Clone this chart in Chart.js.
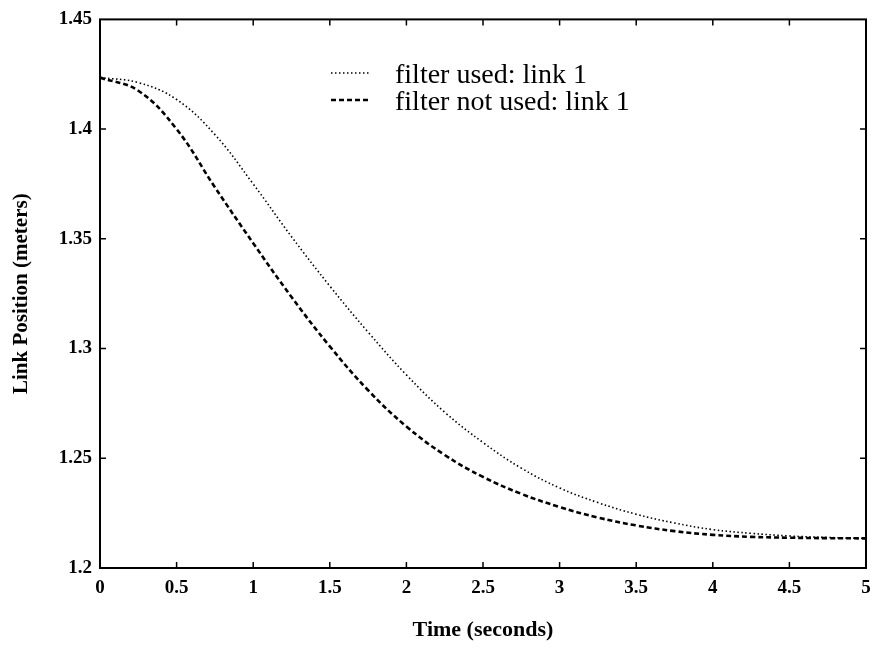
<!DOCTYPE html>
<html>
<head>
<meta charset="utf-8">
<script src="https://cdn.jsdelivr.net/npm/chart.js@4"></script>
<style>
  body { margin: 0; background: #fff; }
  #chart { display: block; }
</style>
</head>
<body>
<canvas id="chart" width="872" height="652"></canvas>
<script>
// time axis (seconds)
const time = [0, 0.25, 0.5, 0.75, 1, 1.25, 1.5, 1.75, 2, 2.25, 2.5, 2.75, 3,
              3.25, 3.5, 3.75, 4, 4.25, 4.5, 4.75, 5];
// link position (meters)
const filterUsed = [1.4235, 1.4212, 1.4135, 1.3975, 1.375, 1.351, 1.3285, 1.3075, 1.288,
                    1.271, 1.2572, 1.2455, 1.2365, 1.2298, 1.2245, 1.2205, 1.2175, 1.2158,
                    1.2146, 1.2139, 1.2135];
const filterNotUsed = [1.4235, 1.4175, 1.400, 1.3735, 1.348, 1.3235, 1.301, 1.281, 1.2645,
                       1.2515, 1.2415, 1.2338, 1.2278, 1.223, 1.2194, 1.2168, 1.2151, 1.2142,
                       1.2138, 1.2136, 1.2135];
const seriesLabels = ['filter used: link 1', 'filter not used: link 1'];

const serif = '"Liberation Serif", "DejaVu Serif", serif';

function fmt(v) {
    return String(Number(v.toFixed(2)));
}

// box + inward ticks on all four sides, like the original plot
const frameTicks = {
    id: 'frameTicks',
    afterDatasetsDraw(chart) {
        const { ctx, chartArea: a, scales } = chart;
        ctx.save();
        ctx.strokeStyle = '#000';
        ctx.lineWidth = 1.5;
        const len = 6;
        scales.x.ticks.forEach(t => {
            const px = scales.x.getPixelForValue(t.value);
            if (px <= a.left + 1 || px >= a.right - 1) return;
            ctx.beginPath();
            ctx.moveTo(px, a.bottom); ctx.lineTo(px, a.bottom - len);
            ctx.moveTo(px, a.top); ctx.lineTo(px, a.top + len);
            ctx.stroke();
        });
        scales.y.ticks.forEach(t => {
            const py = scales.y.getPixelForValue(t.value);
            if (py <= a.top + 1 || py >= a.bottom - 1) return;
            ctx.beginPath();
            ctx.moveTo(a.left, py); ctx.lineTo(a.left + len, py);
            ctx.moveTo(a.right, py); ctx.lineTo(a.right - len, py);
            ctx.stroke();
        });
        ctx.lineWidth = 2;
        ctx.strokeRect(a.left, a.top, a.right - a.left, a.bottom - a.top);
        ctx.restore();
    }
};

// legend drawn inside the plot, upper middle
const innerLegend = {
    id: 'innerLegend',
    afterDraw(chart) {
        const { ctx } = chart;
        ctx.save();
        ctx.font = '28px ' + serif;
        ctx.fillStyle = '#000';
        ctx.textBaseline = 'alphabetic';
        chart.data.datasets.forEach((ds, i) => {
            const y = 83 + i * 27;
            ctx.strokeStyle = '#000';
            ctx.lineWidth = ds.borderWidth;
            ctx.setLineDash(ds.borderDash);
            ctx.beginPath();
            ctx.moveTo(331, y - 10); ctx.lineTo(370, y - 10);
            ctx.stroke();
            ctx.setLineDash([]);
            ctx.fillText(ds.label, 395, y);
        });
        ctx.restore();
    }
};

new Chart(document.getElementById('chart'), {
    type: 'line',
    data: {
        datasets: [{
            label: seriesLabels[0],
            data: time.map((t, i) => ({ x: t, y: filterUsed[i] })),
            borderColor: '#000',
            borderWidth: 1.6,
            borderDash: [1.5, 2.5],
            pointRadius: 0,
            tension: 0.4
        }, {
            label: seriesLabels[1],
            data: time.map((t, i) => ({ x: t, y: filterNotUsed[i] })),
            borderColor: '#000',
            borderWidth: 2.6,
            borderDash: [5, 3],
            pointRadius: 0,
            tension: 0.4
        }]
    },
    options: {
        responsive: false,
        animation: false,
        layout: { padding: { left: 0, right: 6, top: 17, bottom: 0 } },
        plugins: { legend: { display: false }, tooltip: { enabled: false } },
        scales: {
            x: {
                type: 'linear',
                min: 0, max: 5,
                grid: { display: false, drawTicks: false },
                border: { display: false },
                ticks: {
                    stepSize: 0.5,
                    padding: 9,
                    color: '#000',
                    maxRotation: 0,
                    font: { family: serif, size: 19, weight: 'bold' },
                    callback: v => fmt(v)
                },
                title: {
                    display: true,
                    text: 'Time (seconds)',
                    color: '#000',
                    font: { family: serif, size: 22, weight: 'bold' },
                    padding: { top: 0, bottom: 8 }
                },
                afterFit: s => { s.height = 84; s.paddingRight = 0; }
            },
            y: {
                min: 1.2, max: 1.45,
                grid: { display: false, drawTicks: false },
                border: { display: false },
                ticks: {
                    stepSize: 0.05,
                    padding: 8,
                    color: '#000',
                    font: { family: serif, size: 19, weight: 'bold' },
                    callback: v => fmt(v)
                },
                title: {
                    display: true,
                    text: 'Link Position (meters)',
                    color: '#000',
                    font: { family: serif, size: 21, weight: 'bold' },
                    padding: { top: 9, bottom: 0 }
                },
                afterFit: s => { s.width = 100; }
            }
        }
    },
    plugins: [frameTicks, innerLegend]
});
</script>
</body>
</html>
